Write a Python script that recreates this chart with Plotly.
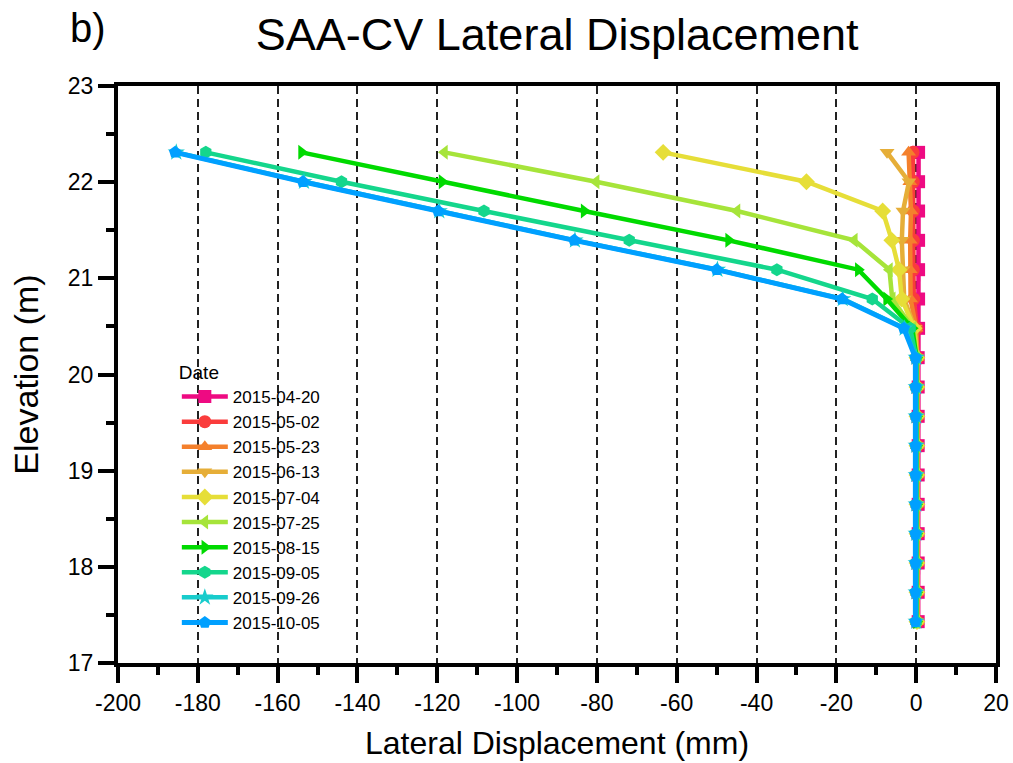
import plotly.graph_objects as go

elevation = [22.31, 22.005, 21.70, 21.395, 21.09, 20.785, 20.48, 20.175, 19.87,
             19.565, 19.26, 18.955, 18.65, 18.345, 18.04, 17.735, 17.43]

dates = ["2015-04-20", "2015-05-02", "2015-05-23", "2015-06-13", "2015-07-04",
         "2015-07-25", "2015-08-15", "2015-09-05", "2015-09-26", "2015-10-05"]

d_0420 = [0.6, 0.6, 0.6, 0.6, 0.6, 0.6, 0.6, 0.5, 0.5, 0.5, 0.5, 0.5, 0.5, 0.5, 0.5, 0.5, 0.5]
d_0502 = [-0.8, -0.7, -0.7, -0.7, -0.7, -0.6, 0.2, 0.4, 0.4, 0.4, 0.4, 0.4, 0.4, 0.4, 0.4, 0.4, 0.4]
d_0523 = [-1.9, -1.6, -1.3, -1.5, -1.5, -1.4, 0.0, 0.3, 0.3, 0.3, 0.3, 0.3, 0.3, 0.3, 0.3, 0.3, 0.3]
d_0613 = [-7.3, -1.8, -3.3, -3.6, -3.3, -3.0, -0.3, 0.2, 0.2, 0.2, 0.2, 0.2, 0.2, 0.2, 0.2, 0.2, 0.2]
d_0704 = [-63.4, -27.5, -8.4, -6.1, -4.3, -3.6, -0.5, 0.2, 0.2, 0.2, 0.2, 0.2, 0.2, 0.2, 0.2, 0.2, 0.2]
d_0725 = [-118.2, -80.2, -44.9, -15.5, -6.7, -6.0, -0.8, 0.1, 0.1, 0.1, 0.1, 0.1, 0.1, 0.1, 0.1, 0.1, 0.1]
d_0815 = [-154.0, -118.8, -83.2, -47.0, -14.5, -7.4, -1.0, 0.1, 0.1, 0.1, 0.1, 0.1, 0.1, 0.1, 0.1, 0.1, 0.1]
d_0905 = [-178.0, -144.0, -108.3, -71.9, -34.9, -11.0, -1.5, 0.0, 0.0, 0.0, 0.0, 0.0, 0.0, 0.0, 0.0, 0.0, 0.0]
d_0926 = [-185.4, -153.4, -119.5, -85.5, -49.8, -18.4, -2.9, 0.0, 0.0, 0.0, 0.0, 0.0, 0.0, 0.0, 0.0, 0.0, 0.0]
d_1005 = [-185.7, -153.7, -119.8, -85.7, -50.0, -18.6, -3.1, -0.2, -0.2, -0.2, -0.2, -0.2, -0.2, -0.2, -0.2, -0.2, -0.2]

series = [d_0420, d_0502, d_0523, d_0613, d_0704, d_0725, d_0815, d_0905, d_0926, d_1005]

x_tickvals = [-200, -180, -160, -140, -120, -100, -80, -60, -40, -20, 0, 20]
x_ticktext = ["-200", "-180", "-160", "-140", "-120", "-100", "-80", "-60", "-40", "-20", "0", "20"]

colors = ["#EE0A82", "#FA3C3C", "#F4802C", "#E6AE38", "#E6DE38",
          "#A6E43A", "#00DA00", "#14D68C", "#18CCCC", "#00A0FF"]
symbols = ["square", "circle", "triangle-up", "triangle-down", "diamond",
           "triangle-left", "triangle-right", "hexagon", "star", "pentagon"]

fig = go.Figure()
for name, vals, col, sym in zip(dates, series, colors, symbols):
    fig.add_trace(go.Scatter(
        x=vals, y=elevation, name=name, mode="lines+markers",
        line=dict(color=col, width=5 if name == "2015-10-05" else 4.5),
        marker=dict(symbol=sym, size=13, color=col, line=dict(width=0)),
    ))

FONT = "Liberation Sans, Arial, sans-serif"

fig.update_layout(
    width=1013, height=763,
    margin=dict(l=118, r=17, t=86, b=100),
    paper_bgcolor="white", plot_bgcolor="white",
    font=dict(family=FONT, color="black"),
    title=dict(text="SAA-CV Lateral Displacement", x=0.55, xanchor="center",
               y=0.955, yanchor="middle", font=dict(size=45, family=FONT)),
    showlegend=True,
    legend=dict(
        title=dict(text="Date", font=dict(size=19)),
        font=dict(size=17), x=0.067, y=0.535, xanchor="left", yanchor="top",
        bgcolor="rgba(0,0,0,0)", itemwidth=46, tracegroupgap=0,
    ),
)
fig.layout.annotations = [dict(text="b)", x=0.0, y=1.0, xref="paper", yref="paper",
                               xshift=-50, yshift=58, xanchor="left", yanchor="middle",
                               showarrow=False, font=dict(size=40, family=FONT))]

fig.update_xaxes(
    range=[-200, 20], tickvals=x_tickvals, ticktext=x_ticktext,
    automargin=False,
    showline=True, linewidth=4, linecolor="black", mirror=True,
    ticks="outside", ticklen=16, tickwidth=4, tickcolor="black",
    tickfont=dict(size=23),
    minor=dict(dtick=10, ticks="outside", ticklen=8, tickwidth=4, tickcolor="black", showgrid=False),
    showgrid=True, gridcolor="#222222", gridwidth=1.5, griddash="8px,5px",
    zeroline=False,
    title=dict(text="Lateral Displacement (mm)", font=dict(size=32), standoff=18),
)
fig.update_yaxes(
    range=[17, 23], dtick=1, automargin=False,
    showline=True, linewidth=4, linecolor="black", mirror=True,
    ticks="outside", ticklen=16, tickwidth=4, tickcolor="black",
    tickfont=dict(size=23),
    minor=dict(dtick=0.5, ticks="outside", ticklen=8, tickwidth=4, tickcolor="black", showgrid=False),
    showgrid=False, zeroline=False,
    title=dict(text="Elevation (m)", font=dict(size=34), standoff=20),
)

fig.write_html("out.html")
